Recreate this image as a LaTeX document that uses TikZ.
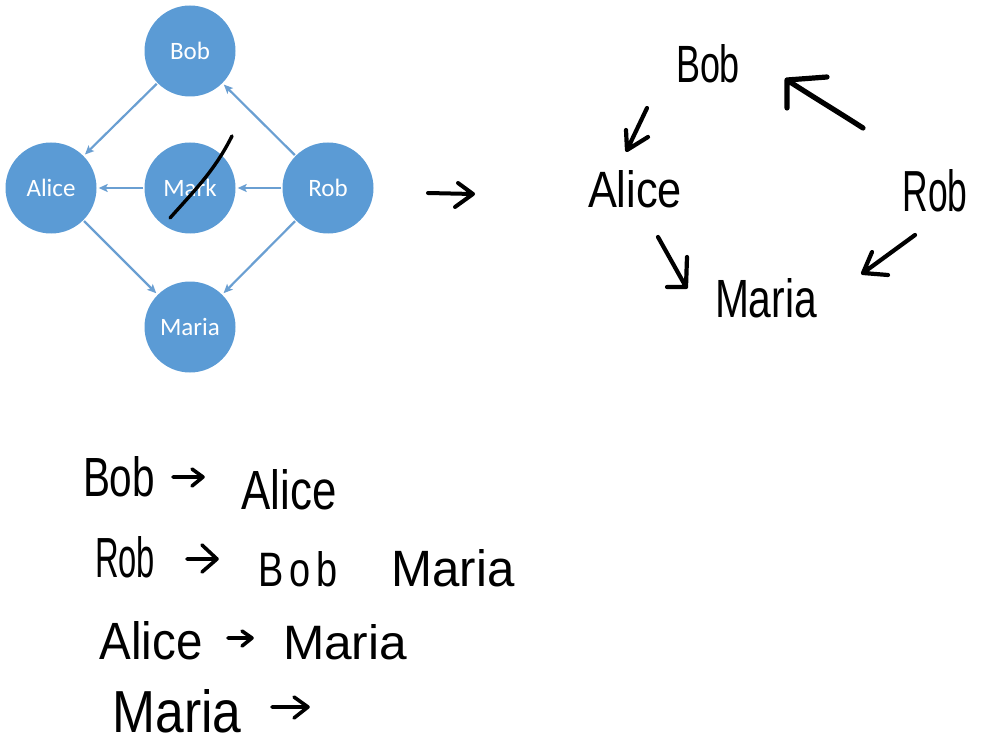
\documentclass[tikz,border=0pt]{standalone}
\usepackage{fontspec}
\setmainfont{Liberation Sans}
\newfontfamily\calib{Carlito}
\usetikzlibrary{arrows.meta}
\definecolor{nodeblue}{HTML}{5B9BD5}
\definecolor{edgeblue}{HTML}{6A9FD2}
\newcommand{\hw}[3]{\resizebox{#1pt}{#2pt}{#3}}
\tikzset{
  bubble/.style={circle, fill=nodeblue, minimum size=91pt, inner sep=0pt, text=white, font=\calib\fontsize{25}{25}\selectfont},
  bedge/.style={draw=edgeblue, line width=2.2pt, -{Stealth[length=9pt,width=8pt,inset=2pt]}, shorten >=2pt, shorten <=1pt},
  hand/.style={font=\fontsize{40}{40}\selectfont, inner sep=0pt},
  handline/.style={line width=4.2pt, line cap=round, line join=round},
  strike/.style={line width=3.4pt, line cap=round}
}
\begin{document}
\begin{tikzpicture}[x=1pt,y=-1pt]
\useasboundingbox (0,0) rectangle (985,754);
% left graph
\node[bubble] (bob) at (190,51) {Bob};
\node[bubble] (alice) at (51,188) {Alice};
\node[bubble] (mark) at (190,188) {Mark};
\node[bubble] (rob) at (328,188) {Rob};
\node[bubble] (maria) at (190,327) {Maria};
\draw[bedge] (bob) -- (alice);
\draw[bedge] (rob) -- (bob);
\draw[bedge] (mark) -- (alice);
\draw[bedge] (rob) -- (mark);
\draw[bedge] (alice) -- (maria);
\draw[bedge] (rob) -- (maria);
% strike on Mark
\coordinate (s1) at (170,218);
\coordinate (s2) at (232,136);
\draw[strike] (s1) .. controls (195,190) and (215,170) .. (s2);
% middle arrow
\coordinate (m1) at (428,193);
\coordinate (m2) at (473,194);
\draw[handline, line width=4pt] (m1) -- (m2) (458,183) -- (m2) -- (455,207);
% right handwritten graph
\node[hand] (hbob) at (708,64) {\hw{64}{38}{Bob}};
\node[hand] (halice) at (635,189) {\hw{94}{37}{Alice}};
\node[hand] (hrob) at (935,191) {\hw{65}{42}{Rob}};
\node[hand] (hmaria) at (766,298) {\hw{102}{39}{Maria}};
\coordinate (a1) at (647,108);
\coordinate (a2) at (627,150);
\draw[handline] (a1) -- (a2) (626,130) -- (a2) -- (648,137);
\coordinate (b1) at (863,128);
\coordinate (b2) at (787,80);
\draw[handline, line width=5.2pt] (b1) .. controls (835,110) and (810,95) .. (b2) (787,108) -- (b2) -- (827,77);
\coordinate (c1) at (658,237);
\coordinate (c2) at (686,287);
\draw[handline] (c1) -- (c2) (667,287) -- (c2) -- (687,257);
\coordinate (d1) at (915,235);
\coordinate (d2) at (863,273);
\draw[handline] (d1) -- (d2) (872,252) -- (d2) -- (888,275);
% bottom lists
\node[hand] (l1a) at (119,477) {\hw{72}{40}{Bob}};
\coordinate (l1s) at (173,477);
\coordinate (l1e) at (203,477);
\draw[handline, line width=3.6pt] (l1s) -- (l1e) (192,469) -- (l1e) -- (192,486);
\node[hand] (l1b) at (289,490) {\hw{95}{40}{Alice}};

\node[hand] (l2a) at (125,557) {\hw{60}{41}{Rob}};
\coordinate (l2s) at (187,559);
\coordinate (l2e) at (217,559);
\draw[handline, line width=3.6pt] (l2s) -- (l2e) (202,545) -- (l2e) -- (202,572);
\node[hand] (l2b) at (298,569) {\hw{80}{35}{B\,o\,b}};
\node[hand] (l2c) at (453,568) {\hw{123}{37}{Maria}};

\node[hand] (l3a) at (151,641) {\hw{103}{38}{Alice}};
\coordinate (l3s) at (228,638);
\coordinate (l3e) at (252,638);
\draw[handline, line width=3.6pt] (l3s) -- (l3e) (242,631) -- (l3e) -- (242,646);
\node[hand] (l3b) at (345,642) {\hw{124}{35}{Maria}};

\node[hand] (l4a) at (177,711) {\hw{129}{43}{Maria}};
\coordinate (l4s) at (272,707);
\coordinate (l4e) at (308,707);
\draw[handline, line width=3.6pt] (l4s) -- (l4e) (294,697) -- (l4e) -- (294,718);
\end{tikzpicture}
\end{document}
